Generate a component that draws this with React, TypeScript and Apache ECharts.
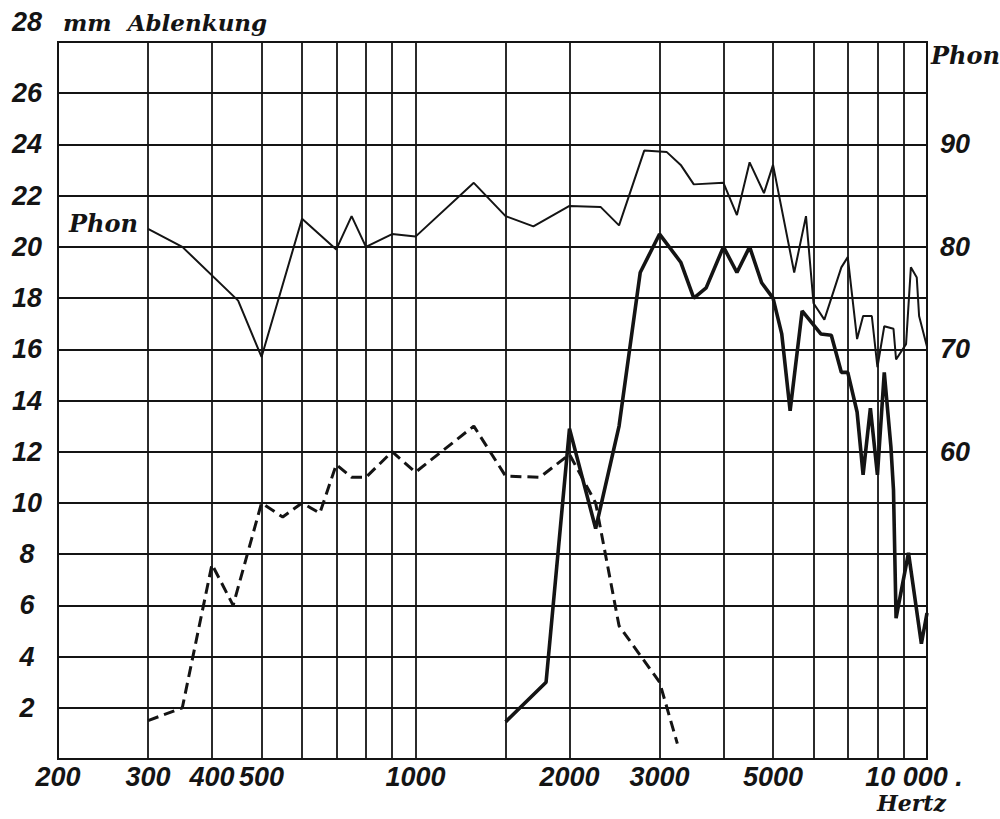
import React, { useEffect, useRef } from 'react';
import * as echarts from 'echarts';

// Frequency axis (Hz)
const xLabelValues = [200, 300, 400, 500, 1000, 2000, 3000, 5000, 10000];
const xGridValues = [200, 300, 400, 500, 600, 700, 800, 900, 1000, 1500, 2000, 3000, 4000, 5000, 6000, 7000, 8000, 9000, 10000];
// Left axis (mm Ablenkung) and right axis (Phon)
const mmTicks = [2, 4, 6, 8, 10, 12, 14, 16, 18, 20, 22, 24, 26, 28];
const phonTicks = [60, 70, 80, 90];

// Phon curve (thin solid, right axis)
const phonFreq = [300, 350, 450, 500, 600, 700, 750, 800, 900, 1000, 1300, 1500, 1700, 2000, 2300, 2500, 2800, 3100, 3300, 3500, 4000, 4250, 4500, 4800, 5000, 5500, 5800, 6000, 6300, 6800, 7000, 7300, 7500, 7800, 8000, 8250, 8600, 8700, 9100, 9300, 9550, 9650, 10000];
const phonValues = [81.75, 80.0, 74.75, 69.25, 82.75, 79.75, 83.0, 80.0, 81.25, 81.0, 86.25, 83.0, 82.0, 84.0, 83.9, 82.1, 89.4, 89.25, 88.0, 86.1, 86.25, 83.1, 88.25, 85.25, 88.0, 77.5, 83.0, 74.5, 72.9, 78.0, 79.0, 71.0, 73.25, 73.25, 68.25, 72.25, 72.0, 69.0, 70.5, 78.0, 77.0, 73.25, 70.25];

// Dashed curve (mm)
const dashedFreq = [300, 350, 400, 440, 500, 550, 600, 650, 700, 750, 800, 900, 1000, 1300, 1500, 1750, 2000, 2250, 2500, 3000, 3250];
const dashedMm = [1.5, 2.0, 7.6, 6.0, 10.0, 9.45, 10.0, 9.6, 11.5, 11.0, 11.0, 12.0, 11.2, 13.0, 11.05, 11.0, 11.9, 10.0, 5.2, 3.0, 0.6];

// Thick solid curve (mm)
const thickFreq = [1500, 1800, 2000, 2250, 2500, 2750, 3000, 3300, 3500, 3700, 4000, 4250, 4500, 4750, 5000, 5200, 5400, 5700, 6200, 6500, 6800, 7000, 7300, 7500, 7750, 8000, 8250, 8500, 8600, 8700, 9200, 9750, 10000];
const thickMm = [1.45, 3.0, 12.9, 9.0, 13.0, 19.0, 20.5, 19.4, 18.0, 18.4, 20.0, 19.0, 20.0, 18.6, 18.0, 16.6, 13.6, 17.5, 16.6, 16.55, 15.1, 15.1, 13.55, 11.1, 13.7, 11.1, 15.1, 12.2, 10.5, 5.5, 8.05, 4.5, 5.7];

const INK = '#141414';
const NUM_FONT = '"Liberation Sans", "DejaVu Sans", sans-serif';
const WORD_FONT = '"DejaVu Serif", "Liberation Serif", serif';

const zip = (xs: number[], ys: number[]) => xs.map((x, i) => [x, ys[i]]);

export default function App() {
  const ref = useRef<HTMLDivElement>(null);

  useEffect(() => {
    if (!ref.current) return;
    const chart = echarts.init(ref.current, undefined, { renderer: 'svg' });
    const numStyle = { fontFamily: NUM_FONT, fontSize: 27, fontStyle: 'italic' as const, fontWeight: 'bold' as const, color: INK };
    chart.setOption({
      animation: false,
      backgroundColor: '#ffffff',
      grid: { left: 58, right: 73, top: 42, bottom: 60, show: true, borderColor: INK, borderWidth: 2, backgroundColor: 'transparent' },
      xAxis: {
        type: 'log',
        logBase: 10,
        min: 200,
        max: 10000,
        axisLine: { show: false },
        axisTick: { show: false, customValues: xGridValues },
        splitLine: { show: true, lineStyle: { color: INK, width: 1.8 } },
        axisLabel: {
          customValues: xLabelValues,
          margin: 4,
          ...numStyle,
          formatter: (v: number) => (v === 10000 ? '{e|10 000 .}' : String(v)),
          rich: { e: { ...numStyle, padding: [0, 26, 0, 0] } },
        },
      },
      yAxis: [
        {
          type: 'value',
          min: 0,
          max: 28,
          interval: 2,
          axisLine: { show: false },
          axisTick: { show: false },
          splitLine: { show: true, lineStyle: { color: INK, width: 1.8 } },
          axisLabel: {
            align: 'center',
            margin: 31,
            ...numStyle,
            formatter: (v: number) => {
              if (!mmTicks.includes(v)) return '';
              return v === 28 ? '{t|28}' : String(v);
            },
            rich: { t: { ...numStyle, padding: [0, 0, 40, 0] } },
          },
        },
        {
          type: 'value',
          min: 30,
          max: 100,
          interval: 10,
          position: 'right',
          axisLine: { show: false },
          axisTick: { show: false },
          splitLine: { show: false },
          axisLabel: {
            align: 'left',
            margin: 13,
            ...numStyle,
            formatter: (v: number) => (phonTicks.includes(v) ? String(v) : ''),
          },
        },
      ],
      graphic: [
        { type: 'text', left: 63, top: 11, style: { text: 'mm  Ablenkung', font: `italic bold 23px ${WORD_FONT}`, fill: INK } },
        { type: 'text', left: 931, top: 43, style: { text: 'Phon', font: `italic bold 24px ${WORD_FONT}`, fill: INK } },
        { type: 'text', left: 69, top: 211, style: { text: 'Phon', font: `italic bold 24px ${WORD_FONT}`, fill: INK } },
        { type: 'text', left: 877, top: 792, style: { text: 'Hertz', font: `italic bold 22px ${WORD_FONT}`, fill: INK } },
      ],
      series: [
        {
          type: 'line',
          name: 'Phon',
          yAxisIndex: 1,
          data: zip(phonFreq, phonValues),
          showSymbol: false,
          lineStyle: { color: INK, width: 2 },
        },
        {
          type: 'line',
          name: 'dashed',
          yAxisIndex: 0,
          data: zip(dashedFreq, dashedMm),
          showSymbol: false,
          lineStyle: { color: INK, width: 3, type: [11, 6] },
        },
        {
          type: 'line',
          name: 'thick',
          yAxisIndex: 0,
          data: zip(thickFreq, thickMm),
          showSymbol: false,
          lineStyle: { color: INK, width: 3.6 },
        },
      ],
    });
    return () => chart.dispose();
  }, []);

  return <div ref={ref} style={{ position: 'fixed', left: 0, top: 0, width: 1000, height: 819 }} />;
}
